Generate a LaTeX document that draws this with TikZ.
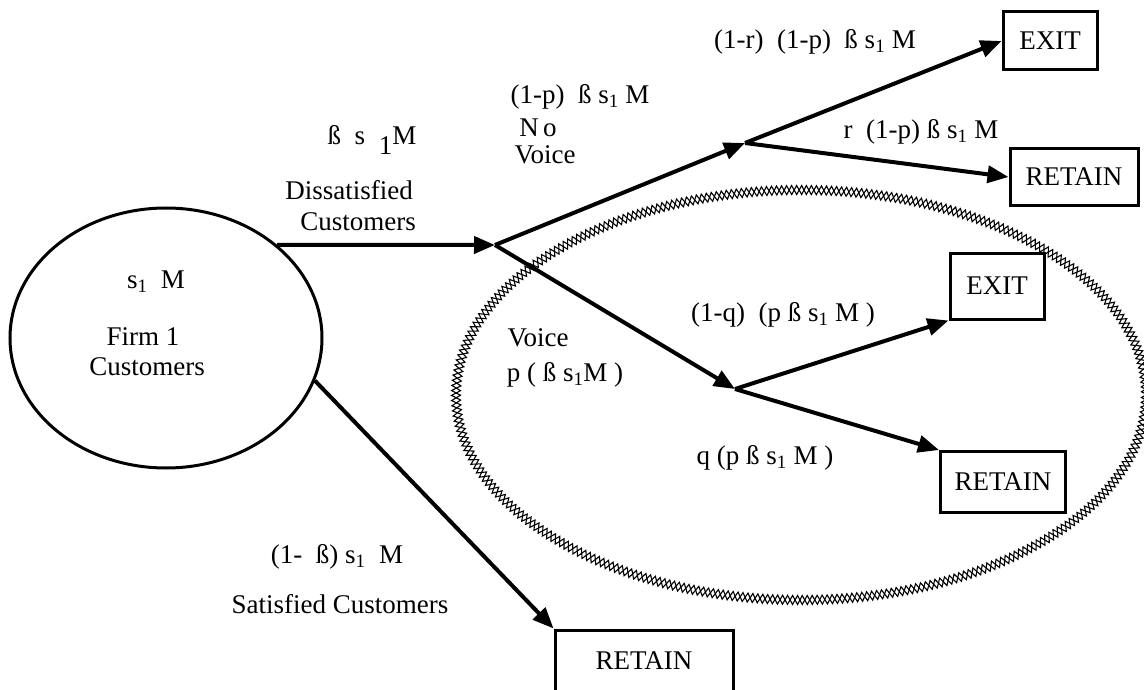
\documentclass[tikz,border=0pt]{standalone}
\usepackage{fontspec}
\setmainfont{Liberation Serif}
\usetikzlibrary{arrows.meta,shapes.geometric,decorations.pathmorphing}
\tikzset{
  font={\fontsize{27pt}{32pt}\selectfont}}

\begin{document}
\begin{tikzpicture}[x=1pt,y=-1pt,
  flow/.style={line width=4pt,-{Triangle[length=21pt,width=17pt]}},
  outcome/.style={draw,line width=3pt,inner sep=0pt},
  lbl/.style={inner sep=0pt},
  hatch/.style={line width=1.1pt,decorate,decoration={zigzag,segment length=10pt,amplitude=4.5pt}}]
\useasboundingbox (0,0) rectangle (1144,690);
\clip (0,0) rectangle (1144,690);
\draw[hatch] (801,395) ellipse [x radius=345, y radius=205];
\draw[hatch,decoration={mirror}] (801,395) ellipse [x radius=345, y radius=205];
\node[draw,ellipse,line width=3pt,minimum width=312pt,minimum height=260pt] (firm) at (166,338) {};
\node[lbl] (firmsize) at (156,282) {s\textsubscript{1}\ \ M};
\node[lbl] (firmname) at (143,337) {Firm 1};
\node[lbl] (firmcust) at (147,367) {Customers};
\node[outcome,minimum width=94pt,minimum height=58pt] (exitnv) at (1050,41) {EXIT};
\node[outcome,minimum width=128pt,minimum height=57pt] (retainnv) at (1074,177) {RETAIN};
\node[outcome,minimum width=94pt,minimum height=66pt] (exitv) at (997,286) {EXIT};
\node[outcome,minimum width=125pt,minimum height=61pt] (retainv) at (1003,482) {RETAIN};
\node[outcome,minimum width=178pt,minimum height=62pt] (retainsat) at (644,661) {RETAIN};
\coordinate (split) at (495,245);
\coordinate (novoice) at (745,143);
\coordinate (voice) at (735,389);
\draw[flow] (firm.40) -- (split);
\draw[flow] (split) -- (novoice);
\draw[flow] (novoice) -- (exitnv.west);
\draw[flow] (novoice) -- (retainnv.west);
\draw[flow] (split) -- (voice);
\draw[flow] (voice) -- (exitv.south west);
\draw[flow] (voice) -- (retainv.north west);
\draw[flow] (firm.-16) -- (retainsat.north west);
\node[lbl] (dissize) at (372,140) {ß\ \ s\ \ \raisebox{-0.35em}{1}M};
\node[lbl] (disname) at (349,190) {Dissatisfied};
\node[lbl] (discust) at (358,222) {Customers};
\node[lbl] (nvsize) at (580,97) {(1-p)\ \ ß s\textsubscript{1} M};
\node[lbl] (nvno) at (538,128) {N\,o};
\node[lbl] (nvvoice) at (545,155) {Voice};
\node[lbl] (nvexit) at (815,42) {(1-r)\ \ (1-p)\ \ ß s\textsubscript{1} M};
\node[lbl] (nvretain) at (921,132) {r\ \ (1-p) ß s\textsubscript{1}\ M};
\node[lbl] (vname) at (538,338) {Voice};
\node[lbl] (vsize) at (565,375) {p ( ß s\textsubscript{1}M )};
\node[lbl] (vexit) at (783,315) {(1-q)\ \ (p ß\ s\textsubscript{1} M )};
\node[lbl] (vretain) at (765,458) {q (p ß\ s\textsubscript{1} M )};
\node[lbl] (satsize) at (337,557) {(1-\ \ ß) s\textsubscript{1}\ \ M};
\node[lbl] (satname) at (340,604) {Satisfied Customers};
\end{tikzpicture}
\end{document}
